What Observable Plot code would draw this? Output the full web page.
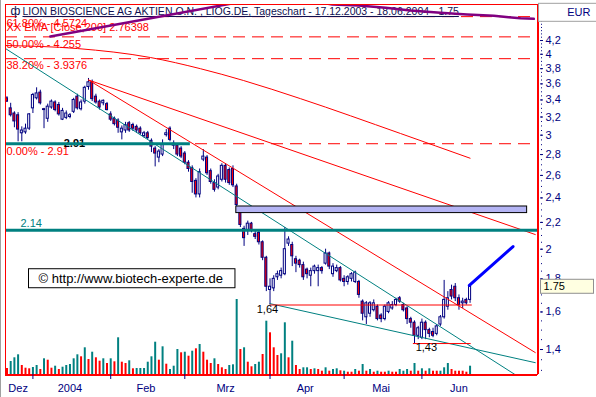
<!DOCTYPE html>
<html>
<head>
<meta charset="utf-8">
<script src="https://cdn.jsdelivr.net/npm/d3@7"></script>
<script src="https://cdn.jsdelivr.net/npm/@observablehq/plot@0.6"></script>
<style>
  html, body { margin: 0; padding: 0; background: #ffffff; }
  #chart { position: relative; width: 596px; height: 397px; overflow: hidden; background: #ffffff; }
  #chart > svg { position: absolute; left: 0; top: 0; }
  #edge { position: absolute; left: 0; top: 0; width: 1px; height: 397px; background: #a0a0a0; }
</style>
</head>
<body>
<div id="chart"></div>
<script>
// ---------------- data ----------------
const title = "LION BIOSCIENCE AG AKTIEN O.N. , LIOG.DE, Tageschart - 17.12.2003 - 18.06.2004 - 1.75";
const titleIcon = "ф";
const currency = "EUR";
const emaLabel = "XX EMA [Close,200] 2.76398";
const watermark = "© http://www.biotech-experte.de";

// daily candles, one per trading day 17.12.2003 .. 18.06.2004 (index = trading day)
const open = [
  3.42,3.30,3.24,3.22,3.02,3.03,3.07,3.30,3.42,3.49,
  3.29,3.18,3.31,3.37,3.34,3.17,3.19,3.20,3.26,3.44,
  3.29,3.38,3.56,3.62,3.44,3.38,3.36,3.35,3.23,3.18,
  3.16,3.03,3.05,3.13,3.11,3.09,3.07,2.99,3.02,2.94,
  2.86,2.77,2.80,3.00,3.07,2.91,2.89,2.86,2.81,2.72,
  2.67,2.55,2.43,2.75,2.77,2.64,2.53,2.49,2.56,2.69,
  2.65,2.66,2.50,2.28,2.15,2.14,2.19,2.11,2.12,2.05,
  1.94,1.73,1.74,1.81,1.82,1.83,2.04,2.03,1.93,1.92,
  1.89,1.86,1.82,1.85,1.85,1.87,1.90,1.97,1.83,1.85,
  1.87,1.80,1.78,1.80,1.78,1.78,1.66,1.57,1.59,1.61,
  1.63,1.58,1.56,1.60,1.62,1.64,1.68,1.64,1.62,1.56,
  1.54,1.47,1.46,1.54,1.50,1.49,1.48,1.53,1.57,1.63,
  1.73,1.75,1.68,1.65,1.67,1.67];
const high = [
  3.44,3.36,3.26,3.25,3.09,3.12,3.24,3.48,3.55,3.52,
  3.30,3.35,3.40,3.39,3.37,3.30,3.27,3.24,3.42,3.47,
  3.40,3.57,3.67,3.65,3.47,3.40,3.40,3.37,3.26,3.20,
  3.18,3.10,3.14,3.15,3.13,3.11,3.09,3.04,3.04,2.96,
  2.88,2.85,2.95,3.06,3.09,2.94,2.91,2.88,2.83,2.74,
  2.69,2.57,2.66,2.85,2.79,2.66,2.56,2.61,2.71,2.71,
  2.67,2.69,2.52,2.29,2.17,2.21,2.20,2.13,2.14,2.06,
  1.95,1.80,1.82,1.85,1.87,2.16,2.09,2.05,1.95,1.93,
  1.91,1.87,1.87,1.89,1.89,1.88,2.00,1.98,1.90,1.89,
  1.88,1.82,1.82,1.84,1.85,1.79,1.67,1.66,1.66,1.67,
  1.64,1.59,1.64,1.66,1.66,1.68,1.69,1.65,1.63,1.57,
  1.55,1.52,1.56,1.55,1.51,1.51,1.53,1.58,1.79,1.72,
  1.76,1.77,1.70,1.68,1.68,1.76];
const low = [
  3.37,3.20,3.08,2.93,2.93,3.01,3.05,3.24,3.40,3.34,
  3.07,3.14,3.29,3.26,3.21,3.16,3.17,3.18,3.24,3.28,
  3.27,3.35,3.52,3.38,3.35,3.28,3.33,3.27,3.15,3.10,
  3.02,2.95,3.02,3.03,3.04,3.02,3.00,2.97,2.95,2.82,
  2.68,2.72,2.78,2.98,2.93,2.85,2.78,2.76,2.70,2.63,
  2.44,2.40,2.40,2.73,2.60,2.52,2.45,2.47,2.54,2.53,
  2.51,2.49,2.30,2.16,2.02,2.10,2.12,2.07,2.03,1.92,
  1.72,1.64,1.72,1.79,1.80,1.82,2.02,1.88,1.84,1.87,
  1.79,1.80,1.75,1.83,1.75,1.83,1.89,1.86,1.81,1.84,
  1.78,1.75,1.76,1.78,1.77,1.68,1.55,1.53,1.57,1.60,
  1.55,1.54,1.55,1.59,1.61,1.63,1.65,1.60,1.53,1.51,
  1.43,1.45,1.45,1.45,1.46,1.46,1.47,1.52,1.56,1.61,
  1.67,1.66,1.61,1.62,1.64,1.65];
const close = [
  3.38,3.22,3.15,3.06,3.05,3.07,3.23,3.46,3.48,3.36,
  3.28,3.32,3.38,3.28,3.23,3.27,3.24,3.22,3.40,3.30,
  3.37,3.55,3.62,3.41,3.37,3.31,3.39,3.28,3.17,3.12,
  3.08,3.07,3.11,3.05,3.07,3.05,3.02,3.02,2.97,2.88,
  2.81,2.83,2.90,3.02,2.95,2.89,2.80,2.78,2.72,2.66,
  2.54,2.43,2.63,2.78,2.62,2.54,2.47,2.59,2.69,2.56,
  2.53,2.51,2.34,2.18,2.08,2.19,2.14,2.09,2.05,1.94,
  1.75,1.75,1.80,1.83,1.85,2.00,2.07,1.95,1.90,1.89,
  1.81,1.83,1.85,1.88,1.87,1.85,1.97,1.88,1.88,1.87,
  1.79,1.78,1.81,1.83,1.84,1.70,1.59,1.65,1.65,1.65,
  1.56,1.56,1.63,1.65,1.64,1.67,1.66,1.61,1.56,1.54,
  1.47,1.51,1.54,1.50,1.48,1.47,1.52,1.57,1.67,1.68,
  1.69,1.68,1.64,1.66,1.65,1.75];

// volume (thousand shares) and up/down flag (1 = up day, teal)
const volume = [
  6,13,16.7,19.7,9,6.3,5.7,7,9,5,
  15.7,14.3,6.3,8.3,5,7.3,9,10,15.7,19.7,
  17.7,26.7,15,22.3,16.7,13.3,15.7,11,15.7,12.7,
  36.7,12.3,11,13.7,5.7,6,6,6,12.3,17.7,
  32.3,14.3,27.7,10.3,5,8.3,25,21.7,22.3,18.3,
  23.3,25.7,30,22.3,14.3,11,15.7,10,6.7,5,
  9,9.7,75,25,26.7,12.3,7.7,10,12.3,20,
  53.3,41.7,26.7,19,20.7,51.7,16.7,33.3,9,5,
  6.7,6.7,5,5.7,5,3.3,6.7,3.3,5,5.7,
  3.7,3.3,2.3,2.3,5,3.3,10,3.3,5,2.3,
  3.3,2.3,2.3,3.3,2.3,2.3,5,3.3,5,3.3,
  11,3.3,5.7,3.3,5.7,3.3,3.3,3.3,6.7,11,
  5,3.3,3.3,3.3,2.3,8.3];
const volumeUp = [
  0,1,1,1,0,0,0,1,1,0,
  1,0,0,1,0,1,1,1,1,1,
  0,1,0,1,0,0,1,0,1,0,
  1,0,0,1,0,1,1,1,1,1,
  1,0,1,0,1,1,1,0,1,0,
  1,0,1,0,0,0,1,0,0,0,
  1,1,1,0,1,0,0,1,1,0,
  1,0,0,0,1,1,0,1,0,0,
  1,1,0,1,0,0,1,0,1,1,
  0,1,0,0,1,0,1,0,1,0,
  1,0,0,1,0,0,1,1,1,0,
  1,0,1,0,1,0,0,1,1,1,
  0,0,0,0,0,1];

// Fibonacci retracement levels
const fibPct = ["61.80%", "50.00%", "38.20%", "0.00%"];
const fibValue = [4.5724, 4.255, 3.9376, 2.91];

// EMA 200 (red) and second average (purple), by trading-day index
const emaIdx = [-0.4, 19, 38.7, 52.2, 63.8, 79.2, 106.2, 125];
const emaVal = [4.126, 4.082, 3.954, 3.80, 3.644, 3.416, 3.018, 2.764];
const purpleIdx = [11.7, 60.3, 74, 87.8, 94.9, 102.2, 108.9, 117.0, 124.2, 131.4, 135.4, 138.6, 142.2];
const purpleVal = [4.26, 4.786, 4.93, 4.774, 4.757, 4.718, 4.673, 4.635, 4.607, 4.586, 4.563, 4.547, 4.537];

// trend lines [index, price]
const redTrendA = [[22, 3.65], [142.6, 1.385]];
const redTrendB = [[22, 3.65], [142.6, 2.107]];
const tealTrendD = [[-0.4, 4.082], [137.1, 1.281]];
const tealTrendE = [[71, 1.648], [142.6, 1.336]];
const projection = [[124.8, 1.758], [136.6, 2.019]];

// horizontal lines
const tealLevels = [2.91, 2.14];
const tealFrom = [-0.4, -0.4];
const tealTo = [49.5, 143.2];
const supportLevels = [1.64, 1.43];
const supportFrom = [71, 109.7];
const supportTo = [125.6, 125.3];
const supportLabelIdx = [70.3, 113.2];

// gap box
const gapIdx = [61.9, 140.4];
const gapVal = [2.274, 2.328];

// axes
const yTicks = [1.4, 1.6, 1.8, 2, 2.2, 2.4, 2.6, 2.8, 3, 3.2, 3.4, 3.6, 3.8, 4, 4.2];
const monthStarts = [7, 28, 48, 71, 91, 112];
const monthLabels = ["Dez", "2004", "Feb", "Mrz", "Apr", "Mai", "Jun"];
const monthLabelPos = [3, 17, 37.5, 59, 80.5, 101, 122];

// ---------------- layout ----------------
const W = 596, H = 397;
const M = {top: 4, right: 59, bottom: 23, left: 5};
const xDomain = [-0.4, 143.2];
const yDomain = [1.281, 4.774];
const navy = "#000080", teal = "#008080", red = "#ff0000";
const fontFam = "'Liberation Sans', Arial, Helvetica, sans-serif";

const candles = open.map((o, i) => ({i, o, h: high[i], l: low[i], c: close[i]}));
const vols = volume.map((v, i) => ({i, v, up: volumeUp[i]}));
const pts = (xs, ys) => xs.map((x, k) => ({x, y: ys[k]}));
const pairs = arr => arr.map(([x, y]) => ({x, y}));
const fmtComma = d => String(d).replace(".", ",");
const minorTicks = d3.range(26, 96).map(k => +(k * 0.05).toFixed(2));
const lastClose = close[close.length - 1];

const common = {
  width: W, height: H,
  marginTop: M.top, marginRight: M.right, marginBottom: M.bottom, marginLeft: M.left,
  x: {domain: xDomain},
  color: {type: "identity"}
};

const volPlot = Plot.plot({
  ...common,
  x: {domain: xDomain, axis: null},
  y: {domain: [0, 370], axis: null},
  style: {background: "#ffffff"},
  marks: [
    Plot.ruleX(vols, {x: "i", y1: 0, y2: "v", stroke: d => d.up ? teal : red, strokeWidth: 2})
  ]
});

const pricePlot = Plot.plot({
  ...common,
  y: {type: "log", domain: yDomain},
  style: {background: "transparent", fontFamily: fontFam, fontSize: "11px", overflow: "visible"},
  marks: [
    // Fibonacci levels
    Plot.ruleY(fibValue, {y: d => d, stroke: red, strokeWidth: 1, strokeDasharray: "12,7"}),
    Plot.text(fibValue, {y: d => d, frameAnchor: "left", dx: 1, dy: 3, lineAnchor: "top", textAnchor: "start",
      text: (d, i) => `${fibPct[i]} - ${d}`, fill: red, fontSize: 11}),
    Plot.text([emaLabel], {frameAnchor: "top-left", dx: 1, dy: 19, lineAnchor: "top", textAnchor: "start",
      text: d => d, fill: red, fontSize: 11}),
    // title
    Plot.text([titleIcon], {frameAnchor: "top-left", dx: 5, dy: 2, lineAnchor: "top", textAnchor: "start",
      text: d => d, fill: "#101050", fontSize: 12}),
    Plot.text([title], {frameAnchor: "top-left", dx: 17, dy: 3, lineAnchor: "top", textAnchor: "start",
      text: d => d, fill: "#101050", fontSize: 10.5}),
    // bold 2.91 label (partly covered by the line)
    Plot.text([2.91], {x: 18.2, y: d => d, text: d => String(d), lineAnchor: "top", dy: -5,
      fontWeight: "bold", fill: "#000000", fontSize: 11}),
    // candles
    Plot.ruleX(candles, {x: "i", y1: "l", y2: "h", stroke: navy, strokeWidth: 1}),
    Plot.rect(candles, {x1: d => d.i - 0.28, x2: d => d.i + 0.28, y1: "o", y2: "c",
      fill: d => d.c >= d.o ? "#ffffff" : red, stroke: navy, strokeWidth: 1}),
    // trend lines
    Plot.line(pairs(redTrendA), {x: "x", y: "y", stroke: red, strokeWidth: 1, clip: true}),
    Plot.line(pairs(redTrendB), {x: "x", y: "y", stroke: red, strokeWidth: 1, clip: true}),
    Plot.line(pts(emaIdx, emaVal), {x: "x", y: "y", stroke: red, strokeWidth: 1, curve: "monotone-x", clip: true}),
    Plot.line(pairs(tealTrendD), {x: "x", y: "y", stroke: teal, strokeWidth: 1, clip: true}),
    Plot.line(pairs(tealTrendE), {x: "x", y: "y", stroke: teal, strokeWidth: 1, clip: true}),
    // horizontal levels
    Plot.ruleY(tealLevels, {y: d => d, x1: (d, i) => tealFrom[i], x2: (d, i) => tealTo[i], stroke: teal, strokeWidth: 3}),
    Plot.ruleY(supportLevels, {y: d => d, x1: (d, i) => supportFrom[i], x2: (d, i) => supportTo[i], stroke: red, strokeWidth: 1}),
    // gap box
    Plot.rect([0], {x1: gapIdx[0], x2: gapIdx[1], y1: gapVal[0], y2: gapVal[1], fill: "#b4b4f4", stroke: "#000000", strokeWidth: 1}),
    // projection
    Plot.line(pairs(projection), {x: "x", y: "y", stroke: "#0000ff", strokeWidth: 3}),
    // purple average
    Plot.line(pts(purpleIdx, purpleVal), {x: "x", y: "y", stroke: "#800080", strokeWidth: 2.5, clip: true}),
    // labels
    Plot.text([tealLevels[1]], {y: d => d, frameAnchor: "left", dx: 15, lineAnchor: "top", dy: -11,
      textAnchor: "start", text: d => String(d), fill: teal, fontSize: 11}),
    Plot.text(supportLevels, {x: (d, i) => supportLabelIdx[i], y: d => d, text: d => fmtComma(d),
      lineAnchor: "top", dy: 0, fill: "#000000", fontSize: 11}),
    // watermark
    Plot.text([watermark], {frameAnchor: "bottom-left", dx: 33, dy: -101, lineAnchor: "top", textAnchor: "start",
      text: d => d, fill: "#000000", fontSize: 13}),
    // frame
    Plot.frame({stroke: red, strokeWidth: 1}),
    Plot.ruleY([yDomain[0]], {y: d => d, stroke: red, strokeWidth: 2, dy: 0.5}),
    Plot.ruleX([xDomain[1]], {x: d => d, stroke: red, strokeWidth: 2, dx: 0.5}),
    // axes
    Plot.axisY(minorTicks, {anchor: "right", tickSize: 1, dx: 3, tickFormat: () => "", color: navy, label: null}),
    Plot.axisY(yTicks, {anchor: "right", tickSize: 3, tickPadding: 3, dx: 2, tickFormat: fmtComma,
      color: navy, fontSize: 11, label: null}),
    Plot.axisX(monthStarts, {anchor: "bottom", tickSize: 5, tickFormat: () => "", color: navy, label: null}),
    Plot.text(monthLabels, {x: (d, i) => monthLabelPos[i], frameAnchor: "bottom", lineAnchor: "top", dy: 10,
      text: d => d, fill: navy, fontSize: 11}),
    // last price and currency
    Plot.text([lastClose], {y: d => d, frameAnchor: "right", dx: 6, textAnchor: "start", lineAnchor: "middle",
      text: d => d.toFixed(2), fill: "#000000", fontSize: 11}),
    Plot.text([currency], {frameAnchor: "top-right", dx: 53, dy: 4, textAnchor: "end", lineAnchor: "top",
      text: d => d, fill: navy, fontSize: 11})
  ]
});

const chart = document.getElementById("chart");
chart.append(volPlot, pricePlot);
const edge = document.createElement("div"); edge.id = "edge"; chart.append(edge);

// ---------- decorations that need rendered text size ----------
const SVGNS = "http://www.w3.org/2000/svg";
function findText(svg, str) { return [...svg.querySelectorAll("text")].find(t => t.textContent === str); }
function boxBehind(svg, str, f) {
  const t = findText(svg, str); if (!t) return;
  const b = t.getBBox();
  const o = f(b);
  const r = document.createElementNS(SVGNS, "rect");
  r.setAttribute("x", o.x); r.setAttribute("y", o.y);
  r.setAttribute("width", o.w); r.setAttribute("height", o.h);
  r.setAttribute("fill", o.fill); r.setAttribute("stroke", o.stroke); r.setAttribute("stroke-width", 1);
  if (t.getAttribute("transform")) r.setAttribute("transform", t.getAttribute("transform"));
  t.parentNode.insertBefore(r, t);
}
boxBehind(pricePlot, watermark, b => ({x: b.x - 10, y: b.y - 2, w: b.width + 22, h: b.height + 4, fill: "#ffffff", stroke: "#000000"}));
boxBehind(pricePlot, lastClose.toFixed(2), b => ({x: b.x - 3, y: b.y - 1, w: 53, h: b.height + 2, fill: "#ffffe1", stroke: "#909090"}));
boxBehind(pricePlot, currency, b => ({x: b.x + b.width - 52, y: b.y - 3, w: 62, h: b.height + 6, fill: "#ffffff", stroke: "#a0a0a0"}));
const tt = findText(pricePlot, title);
if (tt) tt.setAttribute("text-decoration", "underline");
</script>
</body>
</html>
